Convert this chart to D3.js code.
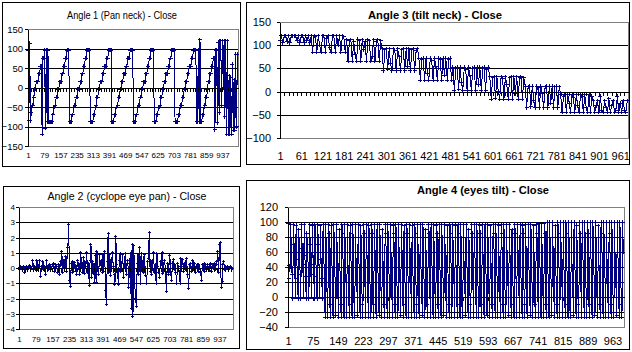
<!DOCTYPE html>
<html lang="en">
<head>
<meta charset="utf-8">
<title>Head angles - Close</title>
<script src="https://cdn.jsdelivr.net/npm/d3@7"></script>
<style>
  html, body { margin: 0; padding: 0; background: #fff; }
  #vis svg { display: block; }
</style>
</head>
<body>
<div id="vis"></div>
<script>
(function() {

  // -----------------------------
  // 1. DATA (readings kept every 4th sample, every 2nd for angle 4)
  // -----------------------------
  const angleStep = 4;
  const angle4Step = 2;

  // Angle 1 (pan neck): sawtooth sweeps
  const angle1Values = [
    95,-85,113,-85,-65,-45,-45,-25,-5,-5,15,15,15,35,35,55,55,-120,75,75,95,-105,95,-88,95,-88,
    -88,-88,-88,-88,-70,-50,-50,-45,-25,-25,-5,-5,15,15,15,35,35,55,55,75,75,95,95,95,
    -88,-88,-88,-70,-70,-50,-45,-45,-25,-25,-5,-5,-5,15,15,35,35,55,55,75,75,95,95,95,95,
    -88,-88,-88,-88,-70,-70,-50,-45,-25,-25,-5,-5,15,15,15,35,35,55,55,55,75,75,95,95,95,95,
    -88,-88,-88,-70,-70,-50,-50,-45,-25,-25,-5,-5,15,15,35,35,35,55,55,75,75,75,95,95,95,95,
    -88,-88,-88,-70,-70,-50,-45,-45,-25,-25,-5,-5,15,15,15,35,35,55,55,75,75,95,95,95,95,
    -88,-88,-88,-70,-70,-50,-50,-45,-25,-25,-5,-5,15,15,35,35,35,55,55,75,75,95,95,95,95,
    -88,-88,-88,-88,-70,-70,-50,-45,-45,-25,-25,-5,-5,15,15,35,35,55,55,55,75,75,95,95,95,95,
    -88,-88,95,-88,122,-88,-88,-70,-70,-50,-45,-25,-25,-5,15,15,35,35,55,55,75,75,-108,95,95,
    -90,115,-65,120,120,-45,120,0,120,-75,120,-120,120,-120,30,-120,25,-120,60,-110,20,-110,85,-100,85
  ];

  // Angle 2 (cyclope eye pan): noise round zero
  const angle2Values = [
    0.05,-0.1,0.1,0,-0.1,0.1,-0.05,-0.3,0.05,0.1,-0.1,0.05,0.15,-0.05,0.1,0,0.5,-0.1,0.1,0.05,
    -0.15,0.5,0,0.1,0.5,-0.55,0.1,0.05,0.45,-0.1,0.1,-0.45,0.5,0.05,0.15,-0.1,0.2,0.1,-0.05,0.2,
    0.3,0.05,-0.2,0.25,0.1,-0.3,0.2,-0.45,0.4,0.15,1.05,-0.3,0.5,0.1,0.75,-0.2,0.6,1.35,2.85,-0.8,
    -1.2,0.3,-0.3,0.45,-0.2,0.35,0.1,-0.45,0.5,0,0.3,-0.4,1,0.2,-0.3,0.7,-0.35,0.4,0.1,1,
    -0.3,0.3,-1.15,0.5,1.55,-0.6,0.4,0.2,-0.95,0.85,-0.95,1.05,0.1,-0.4,0.9,0.2,0.5,-0.3,0.9,-0.2,
    1.05,-1.45,-2.4,0.4,2.25,-0.3,0.9,-0.5,0.4,1,0.1,-0.4,-1.1,2.05,0.2,-0.3,-1.1,0.5,0.95,-0.2,
    0.3,0.9,-0.6,0.3,0.95,-0.4,0.2,0.5,-1.3,0.3,0.95,-2.65,1.55,-3.2,1.45,-1,-2,-2.5,0.3,0.9,
    -0.4,1.35,-1,0.95,0.2,-0.3,0.9,0.1,-0.5,-1,0.4,0.6,2.3,-0.2,0.5,-0.4,0.3,1,-0.3,0.2,
    -1,0.95,0.1,-0.3,-0.6,0.4,0.2,1,-0.35,0.3,0.5,-0.2,-1.55,0.3,-0.4,0.2,0.85,-0.3,-0.8,0.3,
    0.55,-0.1,0.2,-0.3,-1,0.3,0.1,-0.2,-1,0.6,0.1,0.55,-0.2,0.3,-0.1,0.6,0.1,-0.4,-1.35,0.2,
    0.3,-0.2,0.1,0.5,-0.1,0.3,-0.3,0.1,0.2,-0.2,0.25,0,-0.3,-0.8,0.2,0.1,-0.2,0.3,0.1,-0.1,
    0.25,0.05,-0.15,0.3,0.1,-0.2,0.2,0,0.3,-0.1,0.2,0.4,1.05,-0.3,1.55,1.65,-1.3,-0.9,0.2,0.4,
    -0.1,0.1,-0.05,0.1,0,-0.1,0.05,0.1,-0.05,0
  ];

  // Angle 3 (tilt neck): descending steps
  const angle3Values = [
    110,120,105,120,120,107,120,105,120,120,120,120,110,120,105,120,120,105,120,110,120,105,
    120,85,120,118,85,120,100,85,120,120,85,115,120,95,85,120,120,85,120,100,120,85,120,118,85,
    112,65,110,112,65,108,80,65,113,110,65,112,90,108,65,112,110,65,75,112,65,108,112,65,110,
    92,45,90,92,48,92,60,45,92,88,45,92,75,45,90,92,45,92,55,92,45,90,92,45,88,92,
    72,25,70,72,25,72,40,25,72,68,25,72,55,25,72,70,25,72,35,72,25,70,72,25,
    52,3,50,52,5,52,20,3,52,48,3,52,35,3,50,52,3,52,15,52,3,50,52,3,48,52,
    32,-16,30,32,-14,32,0,-16,32,28,-16,32,15,-16,30,32,-16,32,-5,32,-16,30,32,-16,30,
    12,-35,10,12,-33,12,-20,-35,12,8,-35,12,-5,-35,10,12,-35,12,-25,12,-35,10,12,-35,10,
    -7,-45,-10,-7,-45,-7,-25,-45,-7,-12,-45,-7,-30,-45,-7,-10,-45,-7,-35,-45,-7,-45,-10,
    -20,-45,-30,-20,-45,-10,-40,-45,-20,-35,-45,-15,-45,-30,-20,-45,-40,-10,-45,-25,-45,-20,-40,-45,-20
  ];

  // Angle 4 (eyes tilt): fast sweeps, top then three readings down to the bottom
  const angle4Values = [
    98,25,42,40, 97,60,30,-2, 97,70,40,0, 96,50,25,-2, 90,60,30,-2, 97,65,43,0, 97,55,28,-2,
    85,60,40,-2, 97,70,30,0, 96,55,43,-2, 97,60,28,-2, 97,70,40,0, 95,50,25,-2,
    97,60,20,-27, 97,40,0,-27, 97,85,-10,-27, 96,60,-20,-27, 97,40,20,-25,
    97,60,0,-27, 90,40,-10,-27, 97,85,20,-27, 97,60,20,-27, 97,40,0,-27,
    96,85,-10,-27, 97,60,-20,-27, 97,40,20,-25, 97,60,0,-27, 95,40,-10,-27,
    97,85,20,-27, 97,60,20,-27, 96,40,0,-27, 97,85,-10,-27, 97,60,-20,-27,
    97,40,20,-25, 97,60,0,-27, 90,40,-10,-27, 97,85,20,-27, 97,60,20,-27,
    97,40,0,-27, 96,85,-10,-27, 97,60,-20,-27, 97,40,20,-25, 97,60,0,-27,
    95,40,-10,-27, 97,85,20,-27, 97,60,20,-27, 96,40,0,-27, 97,85,-10,-27,
    97,60,-20,-27, 97,40,20,-25, 97,60,0,-27, 90,40,-10,-27, 97,85,20,-27,
    97,60,20,-27, 97,40,0,-27, 96,85,-10,-27, 97,60,-20,-27, 97,40,20,-25,
    97,60,0,-27, 95,40,-10,-27, 97,85,20,-27, 97,60,20,-27, 96,40,0,-27,
    97,85,-10,-27, 97,60,-20,-27, 97,40,20,-25, 97,60,0,-27, 90,40,-10,-27,
    97,85,20,-27, 97,60,20,-27, 97,40,0,-27, 96,85,-10,-27, 97,60,-20,-27,
    97,40,20,-25, 97,60,0,-27, 95,40,-10,-27, 97,85,20,-27, 97,60,20,-27,
    96,40,0,-27, 97,85,-10,-27, 97,60,-20,-27, 97,40,20,-25, 97,60,0,-27,
    90,40,-10,-27, 97,85,20,-27, 97,60,20,-27, 97,40,0,-27, 96,85,-10,-27,
    97,60,-20,-27, 97,40,20,-25, 97,60,0,-27, 95,40,-10,-27, 97,85,20,-27,
    98,60,20,-27, 98,40,0,-27, 98,85,-10,-27, 100,60,-20,-27, 100,40,20,-25,
    100,60,0,-27, 95,40,-10,-27, 100,85,20,-27, 100,60,20,-27, 100,40,0,-27,
    100,85,-10,-27, 100,60,-20,-27, 100,40,20,-25, 100,60,0,-27, 96,40,-10,-27,
    100,85,20,-27, 100,60,20,-27, 100,40,0,-27, 100,85,-10,-27, 100,60,-20,-27,
    100,40,20,-25, 100,60,0,-27, 95,40,-10,-27, 100,85,20,-27, 100,60,20,-27,
    100,40,0,-27, 100,85,-10,-27, 100,60,-20,-27, 100,40,20,-25, 100,60,0,-27,
    100,40,-10,-27, 100,60
  ];

  const angle1YTicks = [-150, -100, -50, 0, 50, 100, 150];
  const angle2YTicks = [-4, -3, -2, -1, 0, 1, 2, 3, 4];
  const angle3YTicks = [-100, -50, 0, 50, 100, 150];
  const angle4YTicks = [-40, -20, 0, 20, 40, 60, 80, 100, 120];

  const angle1XLabels = [1, 79, 157, 235, 313, 391, 469, 547, 625, 703, 781, 859, 937];
  const angle2XLabels = [1, 79, 157, 235, 313, 391, 469, 547, 625, 703, 781, 859, 937];
  const angle3XLabels = [1, 61, 121, 181, 241, 301, 361, 421, 481, 541, 601, 661, 721, 781, 841, 901, 961];
  const angle4XLabels = [1, 75, 149, 223, 297, 371, 445, 519, 593, 667, 741, 815, 889, 963];

  // -----------------------------
  // 2. PANEL LAYOUT
  // -----------------------------
  const panels = [
    { title: "Angle 1 (Pan neck) - Close", values: angle1Values, step: angleStep, n: 1012,
      yDomain: [-150, 150], yTicks: angle1YTicks, xLabels: angle1XLabels,
      box: [2.5, 2.5, 240.5, 166.5], left: 28, top: 29, right: 238, bottom: 146,
      titleX: 122, titleY: 19, titleSize: 10, bold: false, titleLen: 110,
      font: 9.5, xFont: 8, yPad: 2, xLabelY: 155, tickEvery: 13, marker: 2 },
    { title: "Angle 3 (tilt neck) - Close", values: angle3Values, step: angleStep, n: 983,
      yDomain: [-100, 150], yTicks: angle3YTicks, xLabels: angle3XLabels,
      box: [246.5, 2.5, 629.5, 164.5], left: 280, top: 22, right: 628, bottom: 138,
      titleX: 435, titleY: 19, titleSize: 11, bold: true, titleLen: 134,
      font: 11, xFont: 11, yPad: 6, xLabelY: 156, tickEvery: 12, marker: 2 },
    { title: "Angle 2 (cyclope eye pan) - Close", values: angle2Values, step: angleStep, n: 1000,
      yDomain: [-4, 4], yTicks: angle2YTicks, xLabels: angle2XLabels,
      box: [3.5, 186.5, 239.5, 348.5], left: 19, top: 207, right: 233, bottom: 329,
      titleX: 127, titleY: 200, titleSize: 10, bold: false, titleLen: 159,
      font: 8, xFont: 8, yPad: 1, xLabelY: 339, tickEvery: 13, marker: 1.5 },
    { title: "Angle 4 (eyes tilt) - Close", values: angle4Values, step: angle4Step, n: 997,
      yDomain: [-40, 120], yTicks: angle4YTicks, xLabels: angle4XLabels,
      box: [246.5, 180.5, 629.5, 349.5], left: 288, top: 207, right: 624, bottom: 327,
      titleX: 483, titleY: 194, titleSize: 11, bold: true, titleLen: 132,
      font: 11, xFont: 11, yPad: 7, xLabelY: 341.5, tickEvery: 74, marker: 2 }
  ];

  const navy = "#000080";
  const fontFamily = "'Liberation Sans', Arial, sans-serif";

  const svg = d3.select("#vis").append("svg")
      .attr("width", 632)
      .attr("height", 352)
      .style("font-family", fontFamily);

  svg.append("rect").attr("width", 632).attr("height", 352).attr("fill", "#fff");

  // -----------------------------
  // 3. DRAW ONE PANEL
  // -----------------------------
  function drawPanel(p) {
    const g = svg.append("g");
    const [bx0, by0, bx1, by1] = p.box;

    // chart area border
    g.append("rect")
        .attr("x", bx0).attr("y", by0)
        .attr("width", bx1 - bx0).attr("height", by1 - by0)
        .attr("fill", "#fff").attr("stroke", "#000")
        .attr("shape-rendering", "crispEdges");

    const x = d3.scaleLinear().domain([1, p.n]).range([p.left, p.right]);
    const y = d3.scaleLinear().domain(p.yDomain).range([p.bottom, p.top]);

    // plot area frame (grey)
    g.append("rect")
        .attr("x", p.left + 0.5).attr("y", p.top + 0.5)
        .attr("width", p.right - p.left).attr("height", p.bottom - p.top)
        .attr("fill", "none").attr("stroke", "#808080")
        .attr("shape-rendering", "crispEdges");

    // gridlines
    const inner = p.yTicks.filter(v => v !== 0 && v !== p.yDomain[0] && v !== p.yDomain[1]);
    g.append("g")
        .attr("transform", `translate(${p.left},0)`)
        .call(d3.axisLeft(y).tickValues(inner).tickSize(-(p.right - p.left)).tickFormat(""))
        .call(a => a.select(".domain").remove())
        .call(a => a.selectAll("line").attr("stroke", "#000").attr("shape-rendering", "crispEdges"));

    // category axis line at zero
    g.append("g")
        .attr("transform", `translate(0,${Math.round(y(0))})`)
        .call(d3.axisBottom(x).tickValues([]).tickSizeOuter(0))
        .call(a => a.select(".domain").attr("stroke", "#000").attr("shape-rendering", "crispEdges"));

    // series line + markers
    const pts = p.values.map((v, k) => [x(1 + k * p.step), y(v)]);
    g.append("path")
        .attr("d", d3.line()(pts))
        .attr("fill", "none")
        .attr("stroke", navy)
        .attr("stroke-width", 1)
        .attr("shape-rendering", "crispEdges");

    const m = p.marker;
    g.append("path")
        .attr("d", pts.map(([px, py]) =>
          `M${px - m},${py}h${2 * m}M${px},${py - m}v${2 * m}`).join(""))
        .attr("fill", "none")
        .attr("stroke", navy)
        .attr("stroke-width", 1)
        .attr("shape-rendering", "crispEdges");

    // category tick marks on the zero line
    g.append("g")
        .attr("transform", `translate(0,${Math.round(y(0))})`)
        .call(d3.axisBottom(x).tickValues(d3.range(1, p.n + 1, p.tickEvery)).tickSize(4).tickSizeOuter(0).tickFormat(""))
        .call(a => a.select(".domain").remove())
        .call(a => a.selectAll("line").attr("stroke", "#000").attr("shape-rendering", "crispEdges"));

    // value axis
    g.append("g")
        .attr("transform", `translate(${p.left},0)`)
        .call(d3.axisLeft(y).tickValues(p.yTicks).tickSize(3).tickSizeOuter(0).tickPadding(p.yPad))
        .call(a => a.select(".domain").attr("stroke", "#000").attr("shape-rendering", "crispEdges"))
        .call(a => a.selectAll("line").attr("stroke", "#000").attr("shape-rendering", "crispEdges"))
        .call(a => a.selectAll("text")
            .attr("fill", "#000")
            .style("font-family", fontFamily)
            .style("font-size", p.font + "px"));

    // category labels
    g.append("g")
        .attr("transform", `translate(0,${p.bottom})`)
        .call(d3.axisBottom(x).tickValues(p.xLabels).tickSize(0))
        .call(a => a.select(".domain").remove())
        .call(a => a.selectAll("text")
            .attr("y", p.xLabelY - p.bottom)
            .attr("dy", "0.35em")
            .attr("fill", "#000")
            .style("font-family", fontFamily)
            .style("font-size", p.xFont + "px"));

    // title
    g.append("text")
        .attr("x", p.titleX)
        .attr("y", p.titleY)
        .attr("text-anchor", "middle")
        .attr("textLength", p.titleLen)
        .attr("lengthAdjust", "spacingAndGlyphs")
        .style("font-size", p.titleSize + "px")
        .style("font-weight", p.bold ? "bold" : "normal")
        .attr("fill", "#000")
        .text(p.title);
  }

  panels.forEach(drawPanel);

})();
</script>
</body>
</html>
